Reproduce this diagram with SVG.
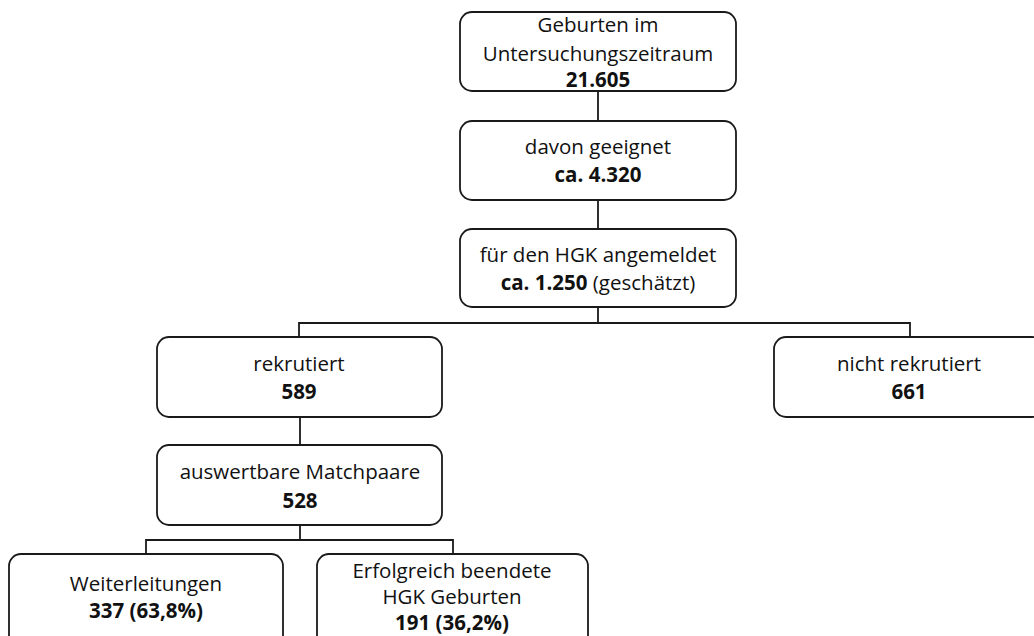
<svg xmlns="http://www.w3.org/2000/svg" width="1034" height="636" viewBox="0 0 1034 636">
<style>
.box{fill:#fff;stroke:#1a1a1a;stroke-width:1.8}
.t{font-family:"Open Sans","Noto Sans",sans-serif;font-size:20.5px;fill:#111;text-anchor:middle}
.b{font-weight:bold}
.c{fill:none;stroke:#1a1a1a;stroke-width:1.8}
</style>
<rect width="1034" height="636" fill="#fff"/>
<g id="connectors">
<path class="c" d="M598 91V121M598 200V229M598 307V323M299 337V323H910V337M300 417V445M300 525V540M146 554V540H453V554"/>
</g>
<g id="n1"><rect class="box" x="460" y="12" width="276" height="79" rx="12"/>
<text class="t" x="598" y="32">Geburten im</text>
<text class="t" x="598" y="61">Untersuchungszeitraum</text>
<text class="t b" x="598" y="87">21.605</text></g>
<g id="n2"><rect class="box" x="460" y="121" width="276" height="79" rx="12"/>
<text class="t" x="598" y="154">davon geeignet</text>
<text class="t b" x="598" y="182">ca. 4.320</text></g>
<g id="n3"><rect class="box" x="460" y="229" width="276" height="78" rx="12"/>
<text class="t" x="598" y="262">für den HGK angemeldet</text>
<text class="t" x="598" y="290"><tspan class="b">ca. 1.250</tspan> (geschätzt)</text></g>
<g id="n4"><rect class="box" x="157" y="337" width="285" height="80" rx="12"/>
<text class="t" x="299" y="371">rekrutiert</text>
<text class="t b" x="299" y="399">589</text></g>
<g id="n5"><rect class="box" x="774" y="337" width="270" height="80" rx="12"/>
<text class="t" x="909" y="371">nicht rekrutiert</text>
<text class="t b" x="909" y="399">661</text></g>
<g id="n6"><rect class="box" x="157" y="445" width="285" height="80" rx="12"/>
<text class="t" x="300" y="479">auswertbare Matchpaare</text>
<text class="t b" x="300" y="508">528</text></g>
<g id="n7"><rect class="box" x="9" y="554" width="274" height="100" rx="12"/>
<text class="t" x="146" y="591">Weiterleitungen</text>
<text class="t b" x="146" y="618">337 (63,8%)</text></g>
<g id="n8"><rect class="box" x="317" y="554" width="271" height="100" rx="12"/>
<text class="t" x="452" y="578">Erfolgreich beendete</text>
<text class="t" x="452" y="604">HGK Geburten</text>
<text class="t b" x="452" y="630">191 (36,2%)</text></g>
</svg>
